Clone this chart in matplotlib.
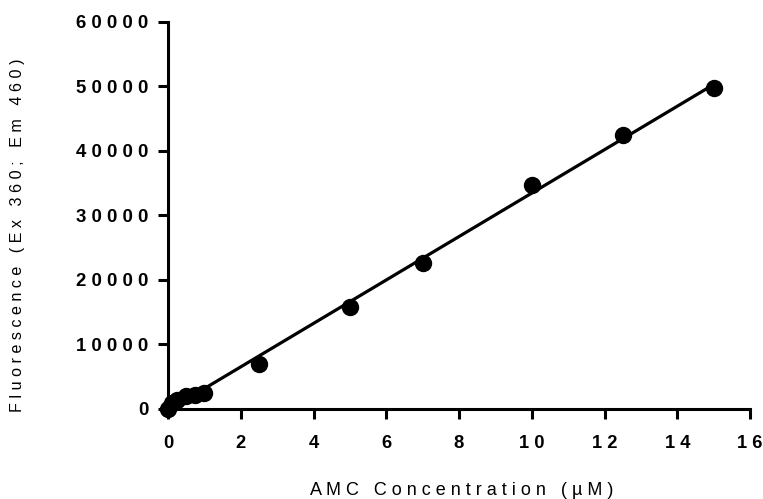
import matplotlib
matplotlib.use('agg')
import matplotlib.pyplot as plt
import numpy as np

# AMC standard curve
conc = [0, 0.1, 0.25, 0.5, 0.75, 1.0, 2.5, 5, 7, 10, 12.5, 15]
fluor = [0, 900, 1400, 2000, 2200, 2400, 7000, 15800, 22700, 34800, 42400, 49800]

xticks = [0, 2, 4, 6, 8, 10, 12, 14, 16]
yticks = [0, 10000, 20000, 30000, 40000, 50000, 60000]


def spread(s, sep):
    # the original has letter-spaced text
    return sep.join(s)


plt.rcParams['font.family'] = ['Liberation Sans', 'DejaVu Sans']

fig = plt.figure(figsize=(7.63, 4.99), dpi=100)
ax = fig.add_axes([0.2202, 0.1804, 0.7628, 0.7756])

slope, icpt = np.polyfit(conc, fluor, 1)
xs = np.array([min(conc), max(conc)])
ax.plot(xs, slope * xs + icpt, color='black', linewidth=2.3, clip_on=False)
ax.plot(conc, fluor, 'o', color='black', markersize=11.5, clip_on=False, zorder=3)

ax.set_xlim(0, 16)
ax.set_ylim(0, 60000)
ax.set_xticks(xticks)
ax.set_yticks(yticks)
ax.set_xticklabels([spread(str(t), ' ') for t in xticks], fontsize=13.2, fontweight='bold')
ax.set_yticklabels([spread(str(t), ' ') for t in yticks], fontsize=13.4, fontweight='bold')

for s in ['top', 'right']:
    ax.spines[s].set_visible(False)
for s in ['left', 'bottom']:
    ax.spines[s].set_linewidth(2.2)
ax.tick_params(width=2.2, length=7)
ax.tick_params(axis='x', pad=12)
ax.tick_params(axis='y', pad=7)

ax.set_xlabel(spread('AMC Concentration (\u00b5M)', ' '), fontsize=13)
ax.set_ylabel(spread('Fluorescence (Ex 360; Em 460)', ' '), fontsize=11.6)
ax.xaxis.set_label_coords(0.505, -0.189)
ax.yaxis.set_label_coords(-0.245, 0.45)

plt.savefig('out.png', dpi=100)
plt.close()
